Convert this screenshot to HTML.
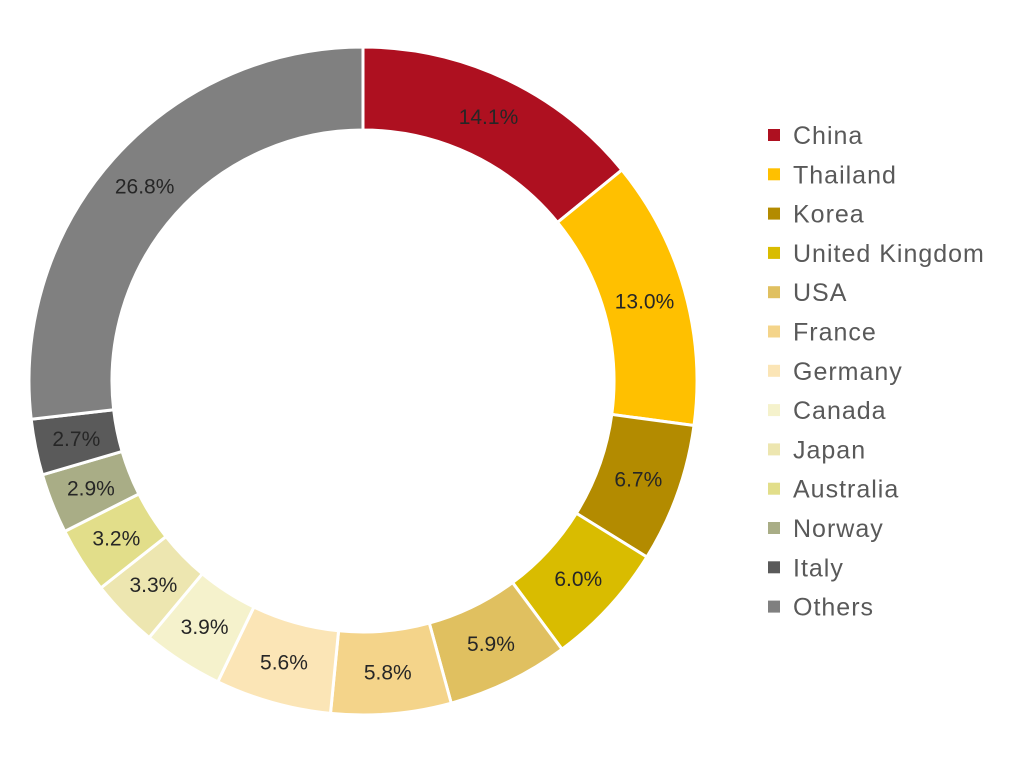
<!DOCTYPE html>
<html><head><meta charset="utf-8">
<style>
html,body{margin:0;padding:0;background:#fff;}
svg{display:block;}
text{font-family:"Liberation Sans",sans-serif;}
</style></head>
<body>
<svg id="chart" width="1024" height="761" viewBox="0 0 1024 761"></svg>
<script>
const categories=["China","Thailand","Korea","United Kingdom","USA","France","Germany","Canada","Japan","Australia","Norway","Italy","Others"];
const values=[14.1,13.0,6.7,6.0,5.9,5.8,5.6,3.9,3.3,3.2,2.9,2.7,26.8];
const labels=["14.1%","13.0%","6.7%","6.0%","5.9%","5.8%","5.6%","3.9%","3.3%","3.2%","2.9%","2.7%","26.8%"];
const colors=["#AE1020","#FFC000","#B38B00","#D9BC00","#E0C060","#F4D48A","#FBE5B6","#F5F2CC","#EDE6B0","#E2DE8A","#A9AD86","#5A5A5A","#808080"];
const NS="http://www.w3.org/2000/svg";
const svg=document.getElementById('chart');
const cx=363,cy=381,R=334,r=251;
const total=values.reduce((a,b)=>a+b,0);
function pt(rad,a){return [cx+rad*Math.sin(a),cy-rad*Math.cos(a)];}
let acc=0;
values.forEach((v,i)=>{
  const a0=acc/total*2*Math.PI, a1=(acc+v)/total*2*Math.PI; acc+=v;
  const large=(a1-a0)>Math.PI?1:0;
  const [x0,y0]=pt(R,a0),[x1,y1]=pt(R,a1),[x2,y2]=pt(r,a1),[x3,y3]=pt(r,a0);
  const p=document.createElementNS(NS,'path');
  p.setAttribute('d',`M${x0},${y0}A${R},${R} 0 ${large} 1 ${x1},${y1}L${x2},${y2}A${r},${r} 0 ${large} 0 ${x3},${y3}Z`);
  p.setAttribute('fill',colors[i]);p.setAttribute('stroke','#fff');p.setAttribute('stroke-width','3');
  
  
  svg.appendChild(p);
  const [lx,ly]=pt((R+r)/2,(a0+a1)/2);
  const t=document.createElementNS(NS,'text');
  t.setAttribute('x',lx);t.setAttribute('y',ly+7);t.setAttribute('text-anchor','middle');
  t.setAttribute('font-size','21');t.setAttribute('fill','#262626');
  t.textContent=labels[i];
  
  
  svg.appendChild(t);
});
categories.forEach((c,i)=>{
  const y=135+i*39.3;
  const g=document.createElementNS(NS,'g');
  
  
  const s=document.createElementNS(NS,'rect');
  s.setAttribute('x',768);s.setAttribute('y',y-6);s.setAttribute('width',12);s.setAttribute('height',12);s.setAttribute('fill',colors[i]);
  
  
  const t=document.createElementNS(NS,'text');
  t.setAttribute('x',793);t.setAttribute('y',y+9);t.setAttribute('font-size','25');t.setAttribute('letter-spacing','1');t.setAttribute('fill','#595959');
  t.textContent=c;
  
  
  g.appendChild(s);g.appendChild(t);svg.appendChild(g);
});
</script>
</body></html>
